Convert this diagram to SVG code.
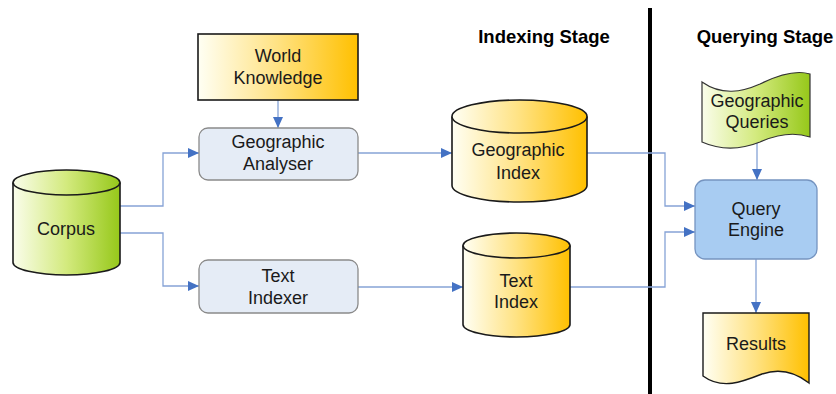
<svg xmlns="http://www.w3.org/2000/svg" width="836" height="394" viewBox="0 0 836 394">
<defs>
<linearGradient id="gold" x1="0" y1="0" x2="1" y2="0">
<stop offset="0" stop-color="#FFFFF4"/>
<stop offset="0.5" stop-color="#FFE282"/>
<stop offset="1" stop-color="#FFC000"/>
</linearGradient>
<linearGradient id="green" x1="0" y1="0" x2="1" y2="0">
<stop offset="0" stop-color="#FAFDEB"/>
<stop offset="0.5" stop-color="#D3EA7E"/>
<stop offset="1" stop-color="#96C81A"/>
</linearGradient>
<marker id="arr" markerUnits="userSpaceOnUse" markerWidth="12" markerHeight="10" refX="11" refY="5" orient="auto">
<path d="M0,0 L11,5 L0,10 Z" fill="#4472C4"/>
</marker>
<style>
text{font-family:"Liberation Sans",Arial,sans-serif;font-size:18px;fill:#1a1a1a;text-anchor:middle}
.title{font-weight:bold;font-size:18.5px;fill:#000}
.conn{fill:none;stroke:#86A3D6;stroke-width:1.3}
.cyl{stroke:#1a1a1a;stroke-width:1.6}
.proc{fill:#E5ECF6;stroke:#8A8A8A;stroke-width:1.3}
</style>
</defs>
<rect width="836" height="394" fill="#fff"/>

<line x1="650" y1="8" x2="650" y2="394" stroke="#000" stroke-width="4"/>
<text class="title" x="544" y="43">Indexing Stage</text>
<text class="title" x="765" y="43">Querying Stage</text>

<g id="connectors">
<path class="conn" d="M120,206 H163 V153 H199" marker-end="url(#arr)"/>
<path class="conn" d="M120,233 H163 V286 H199" marker-end="url(#arr)"/>
<path class="conn" d="M278,100 V128" marker-end="url(#arr)"/>
<path class="conn" d="M358,153 H452" marker-end="url(#arr)"/>
<path class="conn" d="M358,287 H463" marker-end="url(#arr)"/>
<path class="conn" d="M587,153 H665 V206 H695" marker-end="url(#arr)"/>
<path class="conn" d="M570,287 H665 V232 H695" marker-end="url(#arr)"/>
<path class="conn" d="M757,140 V180" marker-end="url(#arr)"/>
<path class="conn" d="M756,259 V313" marker-end="url(#arr)"/>
</g>

<g id="corpus">
<path class="cyl" d="M13,182.5 V262.5 A53.5,12.5 0 0 0 120,262.5 V182.5" fill="url(#green)"/>
<ellipse class="cyl" cx="66.5" cy="182.5" rx="53.5" ry="12.5" fill="url(#green)"/>
<text x="66" y="235">Corpus</text>
</g>

<g id="world-knowledge">
<rect x="198" y="34" width="160" height="66" fill="url(#gold)" stroke="#1a1a1a" stroke-width="1.6"/>
<text x="278" y="62">World</text>
<text x="278" y="84">Knowledge</text>
</g>

<g id="geographic-analyser">
<rect class="proc" x="199" y="128" width="159" height="52" rx="9"/>
<text x="278" y="148">Geographic</text>
<text x="278" y="170">Analyser</text>
</g>

<g id="text-indexer">
<rect class="proc" x="199" y="260" width="159" height="53" rx="9"/>
<text x="278" y="282">Text</text>
<text x="278" y="304">Indexer</text>
</g>

<g id="geographic-index">
<path class="cyl" d="M452,116.5 V185.5 A67.5,16.5 0 0 0 587,185.5 V116.5" fill="url(#gold)"/>
<ellipse class="cyl" cx="519.5" cy="116.5" rx="67.5" ry="16.5" fill="url(#gold)"/>
<text x="518" y="156">Geographic</text>
<text x="518" y="179">Index</text>
</g>

<g id="text-index">
<path class="cyl" d="M463,245.5 V324.5 A53.5,12.5 0 0 0 570,324.5 V245.5" fill="url(#gold)"/>
<ellipse class="cyl" cx="516.5" cy="245.5" rx="53.5" ry="12.5" fill="url(#gold)"/>
<text x="516" y="287">Text</text>
<text x="516" y="308">Index</text>
</g>

<g id="geographic-queries">
<path d="M702,82 C722,96 742,92 760,84 C780,74 797,70 810,74 V137 C795,132 778,134 760,142 C740,150 720,150 702,142 Z" fill="url(#green)" stroke="#333" stroke-width="1.2"/>
<text x="757" y="107">Geographic</text>
<text x="757" y="128">Queries</text>
</g>

<g id="query-engine">
<rect x="695" y="180" width="122" height="79" rx="10" fill="#A8CCF2" stroke="#7594C0" stroke-width="1.3"/>
<text x="756" y="215">Query</text>
<text x="756" y="236">Engine</text>
</g>

<g id="results">
<path d="M703,313 H809 V383 C795,372 780,368 762,374 C742,382 722,390 703,376 Z" fill="url(#gold)" stroke="#1a1a1a" stroke-width="1.4"/>
<text x="756" y="350">Results</text>
</g>
</svg>
